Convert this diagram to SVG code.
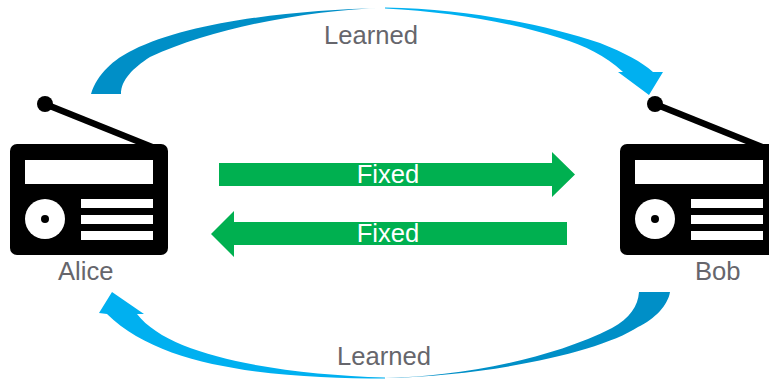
<svg xmlns="http://www.w3.org/2000/svg" width="769" height="381" viewBox="0 0 769 381">
<style>
.lbl{font-family:"Liberation Sans",Arial,sans-serif;font-size:25.6px;fill:#66666c}
.fix{font-family:"Liberation Sans",Arial,sans-serif;font-size:25.6px;fill:#fff;text-anchor:middle}
.dark{fill:#008fc7}
.light{fill:#00b0f0}
.green{fill:#00b050}
.k{fill:#000}
.w{fill:#fff}
</style>
<defs>
<g id="radio">
<rect class="k" x="10" y="144" width="158" height="111" rx="7"/>
<path d="M45 104L152 147" stroke="#000" stroke-width="6.500" fill="none"/>
<circle class="k" cx="45" cy="104" r="8"/>
<rect class="w" x="25" y="160" width="128" height="24"/>
<circle class="w" cx="45" cy="219" r="20"/>
<circle class="k" cx="45" cy="219" r="4"/>
<rect class="w" x="81" y="199" width="72" height="9"/>
<rect class="w" x="81" y="215" width="72" height="9"/>
<rect class="w" x="81" y="231" width="72" height="9"/>
</g>
</defs>
<g id="connectors">
<path class="dark" d="M91 94C97 74 114 59 133 50C190 22 290 10 385 8C310 10 215 27 150 57C133 68 121 80 121 94Z"/>
<path class="light" d="M385 7.500C470 9 545 25 600 43C625 53 642 62 653 72L663 72L649 95L618 72L623 72C605 55 585 46 560 38C510 22 450 12 385 8.500Z"/>
<path class="dark" d="M670 292C668 305 655 319 638 327C600 352 490 376 385 378C450 377 545 362 612 328C630 318 638 306 639 292Z"/>
<path class="light" d="M385 378.500C290 378 165 372 107 314L99 313L112 292L144 314L137 314C170 357 280 374 385 377.500Z"/>
<path class="green" d="M219 163H552V152L575 174.500L552 197V186H219Z"/>
<path class="green" d="M567 222H234V211L211 234L234 257V245H567Z"/>
</g>
<g id="alice"><use href="#radio"/><text class="lbl" x="58" y="280">Alice</text></g>
<g id="bob"><use href="#radio" x="610"/><text class="lbl" x="695" y="280">Bob</text></g>
<g id="label-top"><text class="lbl" x="324" y="44">Learned</text></g>
<g id="label-bottom"><text class="lbl" x="337" y="365">Learned</text></g>
<g id="label-fixed-1"><text class="fix" x="388" y="183">Fixed</text></g>
<g id="label-fixed-2"><text class="fix" x="388" y="242">Fixed</text></g>
</svg>
